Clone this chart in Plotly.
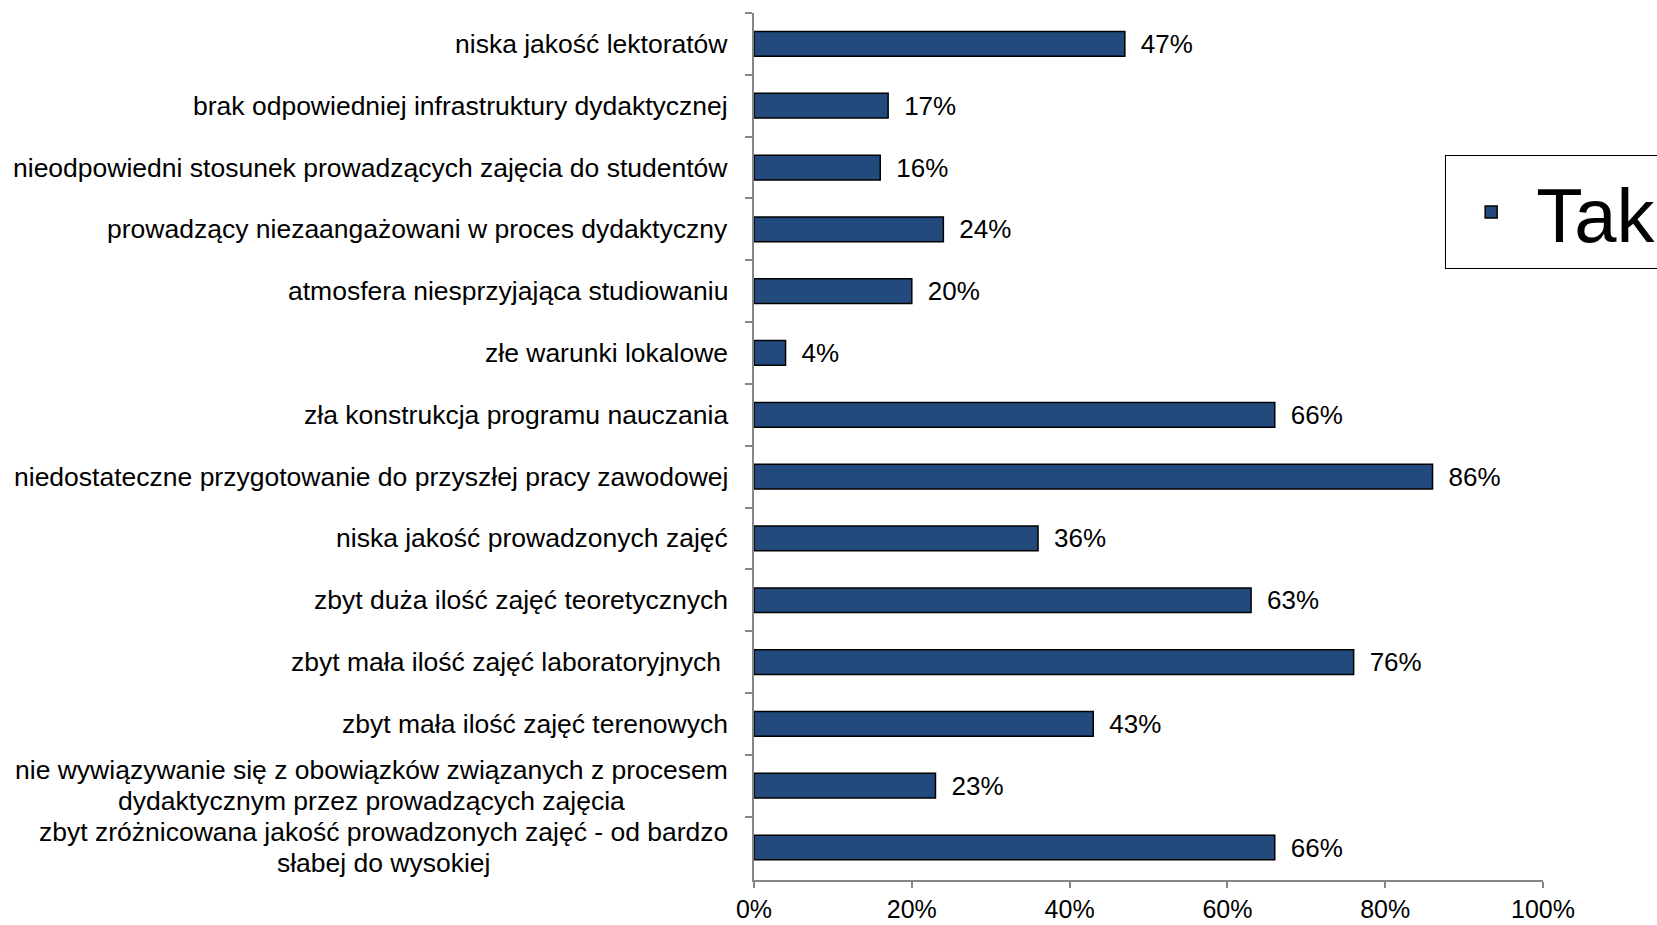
import plotly.graph_objects as go

categories = [
    "niska jakość lektoratów",
    "brak odpowiedniej infrastruktury dydaktycznej",
    "nieodpowiedni stosunek prowadzących zajęcia do studentów",
    "prowadzący niezaangażowani w proces dydaktyczny",
    "atmosfera niesprzyjająca studiowaniu",
    "złe warunki lokalowe",
    "zła konstrukcja programu nauczania",
    "niedostateczne przygotowanie do przyszłej pracy zawodowej",
    "niska jakość prowadzonych zajęć",
    "zbyt duża ilość zajęć teoretycznych",
    "zbyt mała ilość zajęć laboratoryjnych\u00a0",
    "zbyt mała ilość zajęć terenowych",
    "nie wywiązywanie się z obowiązków związanych z procesem<br>dydaktycznym przez prowadzących zajęcia",
    "zbyt zróżnicowana jakość prowadzonych zajęć - od bardzo<br>słabej do wysokiej",
]
tak = [47, 17, 16, 24, 20, 4, 66, 86, 36, 63, 76, 43, 23, 66]
x_ticks = [0, 20, 40, 60, 80, 100]
x_tick_labels = ["0%", "20%", "40%", "60%", "80%", "100%"]

FONT = "Liberation Sans, Arial, sans-serif"
AXIS_COLOR = "#868686"

bar_text = ["\u2002" + f"{v}%" for v in tak]

fig = go.Figure()
fig.add_trace(go.Bar(
    name="Tak",
    y=categories,
    x=tak,
    orientation="h",
    marker=dict(color="#234a7c", line=dict(color="#000000", width=1.5)),
    text=bar_text,
    textposition="outside",
    constraintext="none",
    textfont=dict(family=FONT, size=26, color="#000000"),
    cliponaxis=False,
    hoverinfo="x+y",
))

annotations = []
for cat in categories:
    lines = cat.split("<br>")
    styled = "<br>".join(f'<span style="font-size:26.5px">{ln}</span>' for ln in lines)
    annotations.append(dict(
        x=0, xref="paper", y=cat, yref="y",
        text=styled, showarrow=False,
        xanchor="right", yanchor="middle", align="center",
        xshift=-24,
        font=dict(family=FONT, size=23.5, color="#000000"),
    ))

fig.update_layout(
    width=1657, height=925,
    paper_bgcolor="white", plot_bgcolor="white",
    margin=dict(l=754, r=114, t=13, b=45, autoexpand=False),
    bargap=0.6,
    font=dict(family=FONT, color="#000000"),
    showlegend=True,
    legend=dict(
        x=0.876, y=0.836, xanchor="left", yanchor="top",
        bgcolor="white", bordercolor="#000000", borderwidth=1,
        font=dict(family=FONT, size=76, color="#000000"),
        itemwidth=80,
    ),
    annotations=annotations,
    xaxis=dict(
        range=[0, 100],
        tickvals=x_ticks, ticktext=x_tick_labels,
        showgrid=False, zeroline=False,
        showline=True, linecolor=AXIS_COLOR, linewidth=1.5,
        ticks="outside", ticklen=6, tickcolor=AXIS_COLOR, tickwidth=1.5,
        tickfont=dict(family=FONT, size=25, color="#000000"),
        fixedrange=True,
    ),
    yaxis=dict(
        autorange="reversed",
        showticklabels=False,
        showgrid=False, zeroline=False,
        showline=True, linecolor=AXIS_COLOR, linewidth=1.5,
        ticks="outside", ticklen=7, tickcolor=AXIS_COLOR, tickwidth=1.5,
        tickson="boundaries",
        fixedrange=True,
    ),
)

fig.write_html(
    "out.html",
    config={"displayModeBar": False},
    post_script="document.body.style.margin='0';document.body.style.overflow='hidden';",
)
